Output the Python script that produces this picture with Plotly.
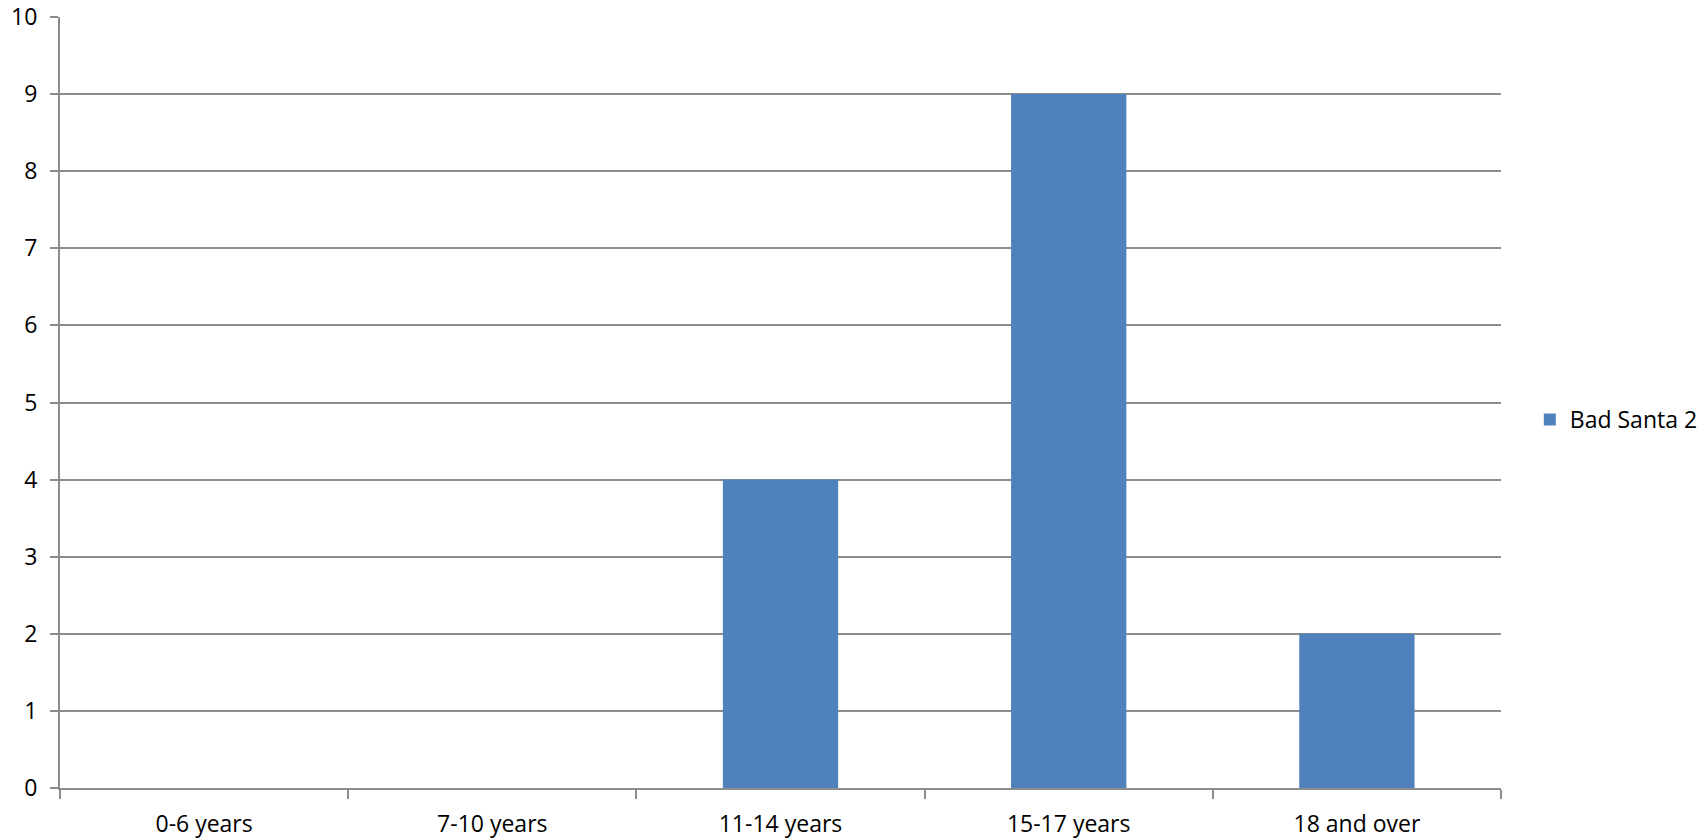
import plotly.graph_objects as go

categories = ["0-6 years", "7-10 years", "11-14 years", "15-17 years", "18 and over"]
values = [0, 0, 4, 9, 2]
series_name = "Bad Santa 2"
y_ticks = list(range(0, 11))

fig = go.Figure()
fig.add_trace(go.Bar(
    x=categories, y=values, name=series_name,
    marker=dict(color="#4F81BD", line=dict(width=0)),
    showlegend=True,
))

grid = "#8C8C8C"
font = dict(family="Open Sans, Liberation Sans, sans-serif", size=23, color="#000000")

fig.update_layout(
    width=1707, height=838,
    margin=dict(l=60, r=206, t=17, b=50, autoexpand=False),
    paper_bgcolor="white", plot_bgcolor="white",
    bargap=0.6,
    font=font,
    showlegend=True,
    legend=dict(x=1.020, y=0.478, xanchor="left", yanchor="middle",
                font=dict(size=23), itemwidth=30, bgcolor="rgba(0,0,0,0)"),
    xaxis=dict(
        showline=True, linecolor=grid, linewidth=2, automargin=False,
        ticks="outside", tickson="boundaries", ticklen=9, tickcolor=grid, tickwidth=2,
        showgrid=False, ticklabelstandoff=14,
    ),
    yaxis=dict(
        range=[0, 10], tickvals=y_ticks, automargin=False,
        showline=True, linecolor=grid, linewidth=2,
        ticks="outside", ticklen=8, tickcolor=grid, tickwidth=2,
        showgrid=True, gridcolor=grid, gridwidth=2,
        zeroline=False, ticklabelstandoff=8,
    ),
)

fig.write_html("out.html",
               config={"displayModeBar": False},
               post_script="document.body.style.margin='0';document.body.style.overflow='hidden';")
